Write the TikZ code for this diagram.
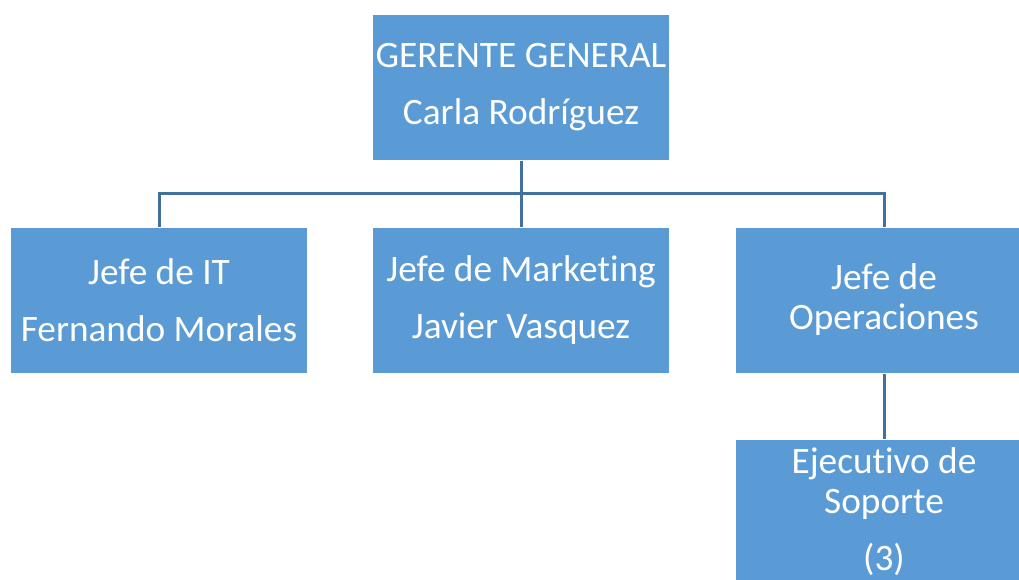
\documentclass[tikz,border=0pt]{standalone}
\usepackage{fontspec}
\setmainfont{Carlito}[Ligatures=NoCommon]
\definecolor{boxfill}{HTML}{5B9BD5}
\definecolor{linkcol}{HTML}{41719C}
\begin{document}
\begin{tikzpicture}[x=1pt,y=-1pt,
  orgbox/.style={fill=boxfill, draw=white, line width=1pt, minimum width=297pt, minimum height=146pt,
    inner sep=0pt, align=center, text=white, font=\fontsize{37.3}{57}\selectfont},
  link/.style={draw=linkcol, line width=3pt}]
\useasboundingbox (0,0) rectangle (1019,579);
\node[orgbox] (gg) at (521,87) {GERENTE GENERAL\\Carla Rodríguez};
\node[orgbox] (it) at (159,300) {Jefe de IT\\Fernando Morales};
\node[orgbox] (mk) at (521,300) {Jefe de Marketing\\Javier Vasquez};
\node[orgbox, font=\fontsize{37.3}{40}\selectfont] (op) at (884,300) {Jefe de\\Operaciones};
\node[orgbox, font=\fontsize{37.3}{40}\selectfont] (es) at (884,512) {Ejecutivo de\\Soporte\\[17pt](3)};
\coordinate (hub) at (521,193);
\draw[link] (gg.south) -- (hub);
\draw[link] (it.north) |- (hub) -| (op.north);
\draw[link] (hub) -- (mk.north);
\draw[link] (op.south) -- (es.north);
\end{tikzpicture}
\end{document}
